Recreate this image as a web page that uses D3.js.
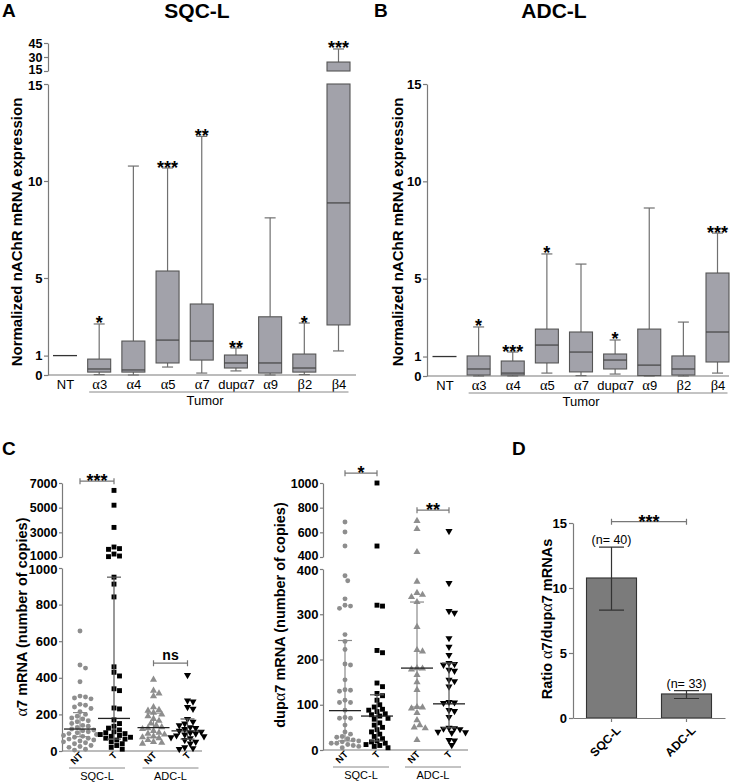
<!DOCTYPE html>
<html>
<head>
<meta charset="utf-8">
<script src="https://cdn.jsdelivr.net/npm/d3@7/dist/d3.min.js"></script>
<style>
  html,body{margin:0;padding:0;background:#fff;}
  svg{display:block;}
</style>
</head>
<body>
<svg id="fig" width="736" height="782"></svg>
<script>
// ================= DATA =================
const boxCats = ["NT","α3","α4","α5","α7","dupα7","α9","β2","β4"];
// [min, Q1, median, Q3, max]; NT = normal-tissue reference level (1)
const sqcBoxes = [
  [1,1,1,1,1],
  [0.02,0.15,0.31,0.82,2.63],
  [0.00,0.15,0.26,1.75,10.77],
  [0.41,0.62,1.80,5.36,10.67],
  [0.10,0.77,1.75,3.66,12.30],
  [0.21,0.36,0.62,1.03,1.39],
  [0.00,0.10,0.62,3.00,8.10],
  [0.02,0.15,0.36,1.08,2.68],
  [1.24,2.58,8.87,24.6,38.6]
];
const sqcStars = ["","*","","***","**","**","","*","***"];
const adcBoxes = [
  [1,1,1,1,1],
  [0.00,0.05,0.36,1.03,2.52],
  [0.00,0.05,0.15,0.77,1.23],
  [0.15,0.67,1.59,2.41,6.27],
  [0.02,0.21,1.23,2.26,5.75],
  [0.10,0.36,0.82,1.13,1.85],
  [0.00,0.02,0.56,2.41,8.63],
  [0.00,0.05,0.36,1.03,2.77],
  [0.15,0.72,2.26,5.29,7.34]
];
const adcStars = ["","*","***","*","","*","","","***"];
const boxTicksLow = [0,1,5,10,15];
const boxTicksHigh = [15,30,45];

const groups = ["SQC-L","ADC-L"];
const tissues = ["NT","T"];

// alpha7 copies
const a7_SQC_NT = [656,470,453,378,300,295,290,285,255,250,240,232,215,200,190,180,175,165,160,150,140,135,128,120,115,110,105,100,95,90,85,80,75,70,65,60,55,50,45,40,30,25,20,10,5];
const a7_SQC_T  = [6400,5200,3400,1810,1680,1620,1240,1080,1030,950,912,842,460,430,410,340,330,235,230,170,150,135,125,115,105,100,95,90,85,80,75,70,65,60,50,40,30,20,10];
const a7_ADC_NT = [390,330,315,300,240,225,220,210,200,190,175,165,150,140,130,125,120,110,100,95,90,80,75,70,60,50,45,40];
const a7_ADC_T  = [415,275,270,240,230,175,160,150,140,130,125,120,110,105,100,95,90,85,80,75,70,60,50,40,20,15,10];
const a7Summary = [[78,120,210],[65,178,950],[75,128,207],[65,110,175]]; // [low, median, high]
const a7TicksLow = [0,200,400,600,800,1000];
const a7TicksHigh = [1000,3000,5000,7000];
const a7Sig = [["SQC-L","***",7150],["ADC-L","ns",480]];

// dup-alpha7 copies
const dup_SQC_NT = [684,603,489,385,374,334,320,318,313,255,240,222,190,188,155,133,132,130,110,105,105,88,72,70,70,55,40,35,30,28,25,22,20,18,15,15,12,10,8,5];
const dup_SQC_T  = [1000,489,320,318,220,215,148,140,125,120,110,100,95,90,88,85,80,78,75,70,68,60,55,50,45,40,35,30,25,20,18,15,12,10,8,5];
const dup_ADC_NT = [692,627,440,372,347,343,338,327,272,221,218,181,180,178,166,150,133,95,94,92,82,66,55,50,48,22];
const dup_ADC_T  = [610,369,307,303,247,228,210,192,190,188,177,175,155,152,140,106,105,104,88,86,73,49,48,47,46,40,39,38,22,21,11];
const dupSummary = [[20,87,242],[20,75,122],[95,181,327],[49,102,192]];
const dupTicksLow = [0,100,200,300,400];
const dupTicksHigh = [400,600,800,1000];
const dupSig = [["SQC-L","*",1080],["ADC-L","**",780]];

// ratio alpha7 / dup-alpha7
const ratioCats = ["SQC-L","ADC-L"];
const ratioMean = [10.77, 1.85];
const ratioErr = [[8.3,13.15],[1.5,2.1]];
const ratioN = [40, 33];
const ratioTicks = [0,5,10,15];
const ratioSig = ["***", 15.1];

// ================= DRAWING =================
const svg = d3.select("#fig");
const SANS = '"Liberation Sans", Arial, Helvetica, sans-serif';
const SERIF = '"Liberation Serif", "Times New Roman", serif';
const AX = "#7a7a7a";
const fmt = d3.format("d");

function greek(sel, str){
  sel.text(null);
  (str.match(/[αβ]+|[^αβ]+/g)||[]).forEach(r=>{
    const t = sel.append("tspan").text(r);
    if(/[αβ]/.test(r)) t.attr("font-family",SERIF).attr("font-size","1.12em").attr("font-weight","normal");
  });
}
function styleAxis(ax, fs){
  ax.attr("font-family",SANS);
  ax.select(".domain").attr("stroke",AX).attr("stroke-width",1.2);
  ax.selectAll(".tick line").attr("stroke",AX).attr("stroke-width",1.2);
  ax.selectAll(".tick text").attr("fill","#000").attr("font-size",fs).attr("font-weight","bold");
}
function makeSegs(defs){
  const segs = defs.map(d=>({lo:d[0][0],hi:d[0][1],y:d3.scaleLinear().domain(d[0]).range(d[1])}));
  const yOf = v=>{ for(const s of segs){ if(v<=s.hi) return s.y(Math.max(v,s.lo)); } return segs[segs.length-1].y(v); };
  const pieces = (a,b)=>segs.filter(s=>b>s.lo && a<s.hi).map(s=>[s.y(Math.min(b,s.hi)), s.y(Math.max(a,s.lo))]);
  return {segs,yOf,pieces};
}
function yAxes(g,S,axisX,ticks,fs,tsz){
  const n = S.segs.length;
  S.segs.forEach((s,i)=>{
    const ax = g.append("g").attr("transform",`translate(${axisX},0)`)
      .call(d3.axisLeft(s.y).tickValues(ticks[i]).tickFormat(fmt).tickSize(tsz||4).tickSizeOuter(0).tickPadding(1.5));
    styleAxis(ax, i>0 ? fs-0.5 : fs);
    if(n>1){
      // nudge the two labels that meet at the axis break apart slightly
      ax.selectAll(".tick text").filter(d=> i===0 ? d===s.hi : d===s.lo)
        .attr("dy", i===0 ? "0.42em" : "0.22em");
    }
  });
}
function yTitle(x,y,str,fs,fw){
  const t = svg.append("text").attr("transform",`translate(${x},${y}) rotate(-90)`)
    .attr("text-anchor","middle").attr("font-family",SANS).attr("font-size",fs).attr("font-weight",fw).attr("fill","#000");
  greek(t,str);
}
function label(x,y,str,fs,fw,anchor){
  return svg.append("text").attr("x",x).attr("y",y).text(str).attr("font-family",SANS)
    .attr("font-size",fs).attr("font-weight",fw||"bold").attr("text-anchor",anchor||"middle").attr("fill","#000");
}
function bracket(g,xa,xb,yy,lab){
  g.append("path").attr("d",`M${xa},${yy-3}V${yy+3}M${xa},${yy}H${xb}M${xb},${yy-3}V${yy+3}`)
    .attr("stroke","#777").attr("stroke-width",1.2).attr("fill","none");
  g.append("text").attr("x",(xa+xb)/2).attr("y",lab==="ns"?yy-3:yy+6).text(lab)
    .attr("text-anchor","middle").attr("font-family",SANS).attr("font-weight","bold")
    .attr("font-size",lab==="ns"?14:18).attr("fill","#000");
}

// ---------- Box panels (A, B) ----------
function boxPanel(p){
  const g = svg.append("g");
  const S = makeSegs(p.segs);
  const x = d3.scalePoint().domain(boxCats).range(p.xr);
  const y0 = S.yOf(0);
  yAxes(g,S,p.axisX,[boxTicksLow,boxTicksHigh],13,4);
  const xa = g.append("g").attr("transform",`translate(0,${y0})`).call(d3.axisBottom(x).tickSize(0).tickPadding(5));
  xa.select(".domain").remove();
  xa.attr("font-family",SANS);
  xa.selectAll(".tick text").attr("font-size",13).attr("fill","#000").each(function(d){greek(d3.select(this),d);});
  g.append("line").attr("x1",p.axisX).attr("x2",p.xEnd).attr("y1",y0).attr("y2",y0).attr("stroke",AX).attr("stroke-width",1.2);
  g.append("line").attr("x1",x(boxCats[1])-10).attr("x2",x(boxCats[8])+10).attr("y1",y0+17).attr("y2",y0+17)
    .attr("stroke","#888").attr("stroke-width",1);
  g.append("text").attr("x",(p.axisX+p.xEnd)/2+3).attr("y",y0+30).text("Tumor").attr("text-anchor","middle")
    .attr("font-family",SANS).attr("font-size",13).attr("fill","#000");
  const bw = 23;
  p.data.forEach((d,i)=>{
    const cx = x(boxCats[i]);
    const [mn,q1,md,q3,mx] = d;
    if(mn===mx){
      g.append("line").attr("x1",cx-12).attr("x2",cx+12).attr("y1",S.yOf(md)).attr("y2",S.yOf(md)).attr("stroke","#333").attr("stroke-width",1.3);
      return;
    }
    S.pieces(mn,q1).concat(S.pieces(q3,mx)).forEach(([a,b])=>{
      g.append("line").attr("x1",cx).attr("x2",cx).attr("y1",a).attr("y2",b).attr("stroke","#707070").attr("stroke-width",1.2);
    });
    [mn,mx].forEach(v=>{
      g.append("line").attr("x1",cx-5.5).attr("x2",cx+5.5).attr("y1",S.yOf(v)).attr("y2",S.yOf(v)).attr("stroke","#707070").attr("stroke-width",1.2);
    });
    S.pieces(q1,q3).forEach(([a,b])=>{
      g.append("rect").attr("x",cx-bw/2).attr("width",bw).attr("y",a).attr("height",Math.max(b-a,0.5))
        .attr("fill","#a2a2aa").attr("stroke","#555").attr("stroke-width",1.1);
    });
    g.append("line").attr("x1",cx-bw/2).attr("x2",cx+bw/2).attr("y1",S.yOf(md)).attr("y2",S.yOf(md)).attr("stroke","#444").attr("stroke-width",1.2);
    if(p.stars[i]) g.append("text").attr("x",cx).attr("y",S.yOf(mx)+5.5).text(p.stars[i]).attr("text-anchor","middle")
      .attr("font-family",SANS).attr("font-weight","bold").attr("font-size",18).attr("fill","#000");
  });
}

boxPanel({segs:[[[0,15],[375,84]],[[15,45],[71,43]]], xr:[65,338.5], axisX:48, xEnd:356, data:sqcBoxes, stars:sqcStars});
boxPanel({segs:[[[0,15],[376,84]]], xr:[444.5,717.5], axisX:427, xEnd:729, data:adcBoxes, stars:adcStars});
yTitle(22,232,"Normalized nAChR mRNA expression",15,"bold");
yTitle(403,232,"Normalized nAChR mRNA expression",15,"bold");

// ---------- Scatter panels (C) ----------
function swarm(ys,d){
  const idx = d3.range(ys.length).sort((a,b)=>ys[a]-ys[b]);
  const placed = [], offs = new Array(ys.length).fill(0);
  idx.forEach(i=>{
    const y = ys[i];
    for(let k=0;k<80;k++){
      const o = k===0?0:(k%2?1:-1)*Math.ceil(k/2)*d*0.55;
      if(placed.every(q=>(q[0]-o)**2+(q[1]-y)**2 >= d*d)){ offs[i]=o; placed.push([o,y]); return; }
    }
  });
  return offs;
}
function scatterPanel(p){
  const g = svg.append("g");
  const S = makeSegs(p.segs);
  const y0 = S.yOf(0);
  const gx = d3.scalePoint().domain(groups).range(p.gr);
  const tx = d3.scalePoint().domain(tissues).range([-p.half,p.half]);
  yAxes(g,S,p.axisX,p.ticks,13,3);
  g.append("line").attr("x1",p.axisX).attr("x2",p.xEnd).attr("y1",y0).attr("y2",y0).attr("stroke",AX).attr("stroke-width",1.2);
  groups.forEach(gr=>{
    const ax = g.append("g").attr("transform",`translate(${gx(gr)},${y0})`).call(d3.axisBottom(tx).tickSize(0));
    ax.select(".domain").remove();
    ax.attr("font-family",SANS);
    ax.selectAll(".tick text").attr("x",0).attr("y",0).attr("dy",0).attr("text-anchor","end")
      .attr("transform","translate(3,5) rotate(-45)").attr("font-size",9.5).attr("font-weight","bold").attr("fill","#000");
    g.append("line").attr("x1",gx(gr)-28).attr("x2",gx(gr)+28).attr("y1",y0+17).attr("y2",y0+17).attr("stroke","#888").attr("stroke-width",1);
    g.append("text").attr("x",gx(gr)).attr("y",y0+29).text(gr).attr("text-anchor","middle")
      .attr("font-family",SANS).attr("font-size",11).attr("fill","#000");
  });
  const keys = [["SQC-L","NT"],["SQC-L","T"],["ADC-L","NT"],["ADC-L","T"]];
  const syms = [
    {t:d3.symbolCircle,s:19,c:"#8e8e8e",r:0},
    {t:d3.symbolSquare,s:24,c:"#000",r:0},
    {t:d3.symbolTriangle,s:22,c:"#8e8e8e",r:0},
    {t:d3.symbolTriangle,s:22,c:"#000",r:180}
  ];
  keys.forEach(([gr,ts],k)=>{
    const cx = gx(gr)+tx(ts);
    const vals = p.values[k];
    const ys = vals.map(S.yOf);
    const offs = swarm(ys,5.0);
    const sy = syms[k];
    g.append("g").selectAll("path").data(vals).join("path")
      .attr("transform",(d,i)=>`translate(${cx+offs[i]},${ys[i]}) rotate(${sy.r})`)
      .attr("d",d3.symbol(sy.t,sy.s)).attr("fill",sy.c);
  });
  keys.forEach(([gr,ts],k)=>{
    const cx = gx(gr)+tx(ts);
    const [lo,md,hi] = p.summary[k];
    const col = ts==="NT" ? "#8a8a8a" : "#555";
    S.pieces(lo,hi).forEach(([a,b])=>{
      g.append("line").attr("x1",cx).attr("x2",cx).attr("y1",a).attr("y2",b).attr("stroke",col).attr("stroke-width",1.2);
    });
    [lo,hi].forEach(v=>g.append("line").attr("x1",cx-7).attr("x2",cx+7).attr("y1",S.yOf(v)).attr("y2",S.yOf(v)).attr("stroke",col).attr("stroke-width",1.2));
    g.append("line").attr("x1",cx-16).attr("x2",cx+16).attr("y1",S.yOf(md)).attr("y2",S.yOf(md)).attr("stroke","#222").attr("stroke-width",1.3);
  });
  p.sig.forEach(([gr,lab,lvl])=>bracket(g,gx(gr)+tx("NT"),gx(gr)+tx("T"),S.yOf(lvl),lab));
}

scatterPanel({segs:[[[0,1000],[751,568]],[[1000,7000],[557,483]]], ticks:[a7TicksLow,a7TicksHigh], axisX:62, xEnd:202,
  gr:[97,170.5], half:17, values:[a7_SQC_NT,a7_SQC_T,a7_ADC_NT,a7_ADC_T], summary:a7Summary, sig:a7Sig});
scatterPanel({segs:[[[0,400],[750,569]],[[400,1000],[557,483]]], ticks:[dupTicksLow,dupTicksHigh], axisX:323, xEnd:468,
  gr:[361,433], half:16, values:[dup_SQC_NT,dup_SQC_T,dup_ADC_NT,dup_ADC_T], summary:dupSummary, sig:dupSig});
yTitle(27,617,"α7 mRNA (number of copies)",14.5,"bold");
yTitle(285,615,"dupα7 mRNA (number of copies)",14.5,"bold");

// ---------- Bar panel (D) ----------
(function(){
  const g = svg.append("g");
  const x = d3.scaleBand().domain(ratioCats).range([573,725]).paddingInner(0.333).paddingOuter(0.18);
  const y = d3.scaleLinear().domain([0,15]).range([718,523]);
  const ya = g.append("g").attr("transform","translate(573,0)").call(d3.axisLeft(y).tickValues(ratioTicks).tickFormat(fmt).tickSize(4).tickSizeOuter(0).tickPadding(2));
  styleAxis(ya,13);
  g.selectAll("rect.bar").data(ratioMean).join("rect").attr("class","bar")
    .attr("x",(d,i)=>x(ratioCats[i])).attr("width",x.bandwidth())
    .attr("y",d=>y(d)).attr("height",d=>y(0)-y(d)).attr("fill","#7b7b7b").attr("stroke","#333").attr("stroke-width",1.1);
  const xa = g.append("g").attr("transform","translate(0,718)").call(d3.axisBottom(x).tickSize(4).tickSizeOuter(0));
  styleAxis(xa,12);
  xa.selectAll(".tick text").attr("x",0).attr("y",0).attr("dy",0).attr("text-anchor","end").attr("transform","translate(10,13) rotate(-45)");
  ratioErr.forEach(([lo,hi],i)=>{
    const cx = x(ratioCats[i])+x.bandwidth()/2;
    g.append("path").attr("d",`M${cx},${y(lo)}V${y(hi)}M${cx-12.5},${y(lo)}H${cx+12.5}M${cx-12.5},${y(hi)}H${cx+12.5}`)
      .attr("stroke","#333").attr("stroke-width",1.2).attr("fill","none");
    g.append("text").attr("x",cx).attr("y",y(hi)-3).text(`(n= ${ratioN[i]})`).attr("text-anchor","middle")
      .attr("font-family",SANS).attr("font-size",12.5).attr("fill","#000");
  });
  const c0 = x(ratioCats[0])+x.bandwidth()/2, c1 = x(ratioCats[1])+x.bandwidth()/2;
  bracket(g,c0,c1,y(ratioSig[1]),ratioSig[0]);
})();
yTitle(552,619,"Ratio α7/dupα7 mRNAs",14.5,"bold");

// ---------- Panel letters & titles ----------
label(2,17,"A",19,"bold","start");
label(197,18,"SQC-L",21,"bold");
label(374,17,"B",19,"bold","start");
label(554,18,"ADC-L",21,"bold");
label(2,455,"C",19,"bold","start");
label(512,455,"D",19,"bold","start");
</script>
</body>
</html>
